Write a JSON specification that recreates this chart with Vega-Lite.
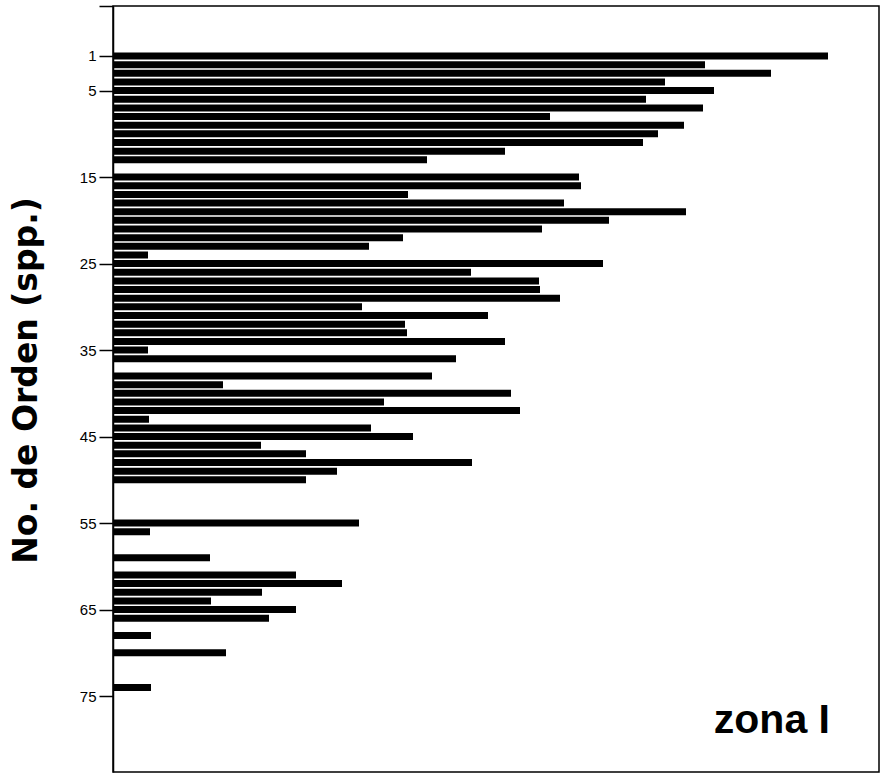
{
  "$schema": "https://vega.github.io/schema/vega-lite/v6.json",
  "autosize": {"type": "none"},
  "width": 766,
  "height": 766,
  "padding": {"left": 113, "top": 6, "right": 6, "bottom": 5},
  "background": "white",
  "config": {
    "view": {"stroke": "black", "strokeWidth": 1.5},
    "font": "Liberation Sans"
  },
  "datasets": {
    "barras": [
      {"orden": 1, "valor": 715}, {"orden": 2, "valor": 592}, {"orden": 3, "valor": 658},
      {"orden": 4, "valor": 552}, {"orden": 5, "valor": 601}, {"orden": 6, "valor": 533},
      {"orden": 7, "valor": 590}, {"orden": 8, "valor": 437}, {"orden": 9, "valor": 571},
      {"orden": 10, "valor": 545}, {"orden": 11, "valor": 530}, {"orden": 12, "valor": 392},
      {"orden": 13, "valor": 314}, {"orden": 15, "valor": 466}, {"orden": 16, "valor": 468},
      {"orden": 17, "valor": 295}, {"orden": 18, "valor": 451}, {"orden": 19, "valor": 573},
      {"orden": 20, "valor": 496}, {"orden": 21, "valor": 429}, {"orden": 22, "valor": 290},
      {"orden": 23, "valor": 256}, {"orden": 24, "valor": 35}, {"orden": 25, "valor": 490},
      {"orden": 26, "valor": 358}, {"orden": 27, "valor": 426}, {"orden": 28, "valor": 427},
      {"orden": 29, "valor": 447}, {"orden": 30, "valor": 249}, {"orden": 31, "valor": 375},
      {"orden": 32, "valor": 292}, {"orden": 33, "valor": 294}, {"orden": 34, "valor": 392},
      {"orden": 35, "valor": 35}, {"orden": 36, "valor": 343}, {"orden": 38, "valor": 319},
      {"orden": 39, "valor": 110}, {"orden": 40, "valor": 398}, {"orden": 41, "valor": 271},
      {"orden": 42, "valor": 407}, {"orden": 43, "valor": 36}, {"orden": 44, "valor": 258},
      {"orden": 45, "valor": 300}, {"orden": 46, "valor": 148}, {"orden": 47, "valor": 193},
      {"orden": 48, "valor": 359}, {"orden": 49, "valor": 224}, {"orden": 50, "valor": 193},
      {"orden": 55, "valor": 246}, {"orden": 56, "valor": 37}, {"orden": 59, "valor": 97},
      {"orden": 61, "valor": 183}, {"orden": 62, "valor": 229}, {"orden": 63, "valor": 149},
      {"orden": 64, "valor": 98}, {"orden": 65, "valor": 183}, {"orden": 66, "valor": 156},
      {"orden": 68, "valor": 38}, {"orden": 70, "valor": 113}, {"orden": 74, "valor": 38}
    ]
  },
  "layer": [
    {
      "data": {"name": "barras"},
      "mark": {"type": "bar", "color": "black", "size": 7, "orient": "horizontal"},
      "encoding": {
        "y": {
          "field": "orden",
          "type": "quantitative",
          "scale": {"domain": [-4.78, 83.78], "reverse": true, "nice": false, "zero": false, "padding": 0},
          "axis": {
            "title": "No. de Orden (spp.)",
            "titleFont": "DejaVu Sans",
            "titleFontSize": 33,
            "titleFontWeight": "bold",
            "titleColor": "black",
            "titleX": -70,
            "titleY": 374,
            "values": [-4.78, 1, 5, 15, 25, 35, 45, 55, 65, 75],
            "labelExpr": "datum.value < 0 ? '' : datum.label",
            "labelFont": "Liberation Sans",
            "labelFontSize": 15,
            "labelColor": "black",
            "labelPadding": 3,
            "tickColor": "black",
            "tickSize": 14,
            "tickWidth": 1.5,
            "domainColor": "black",
            "domainWidth": 1.5,
            "grid": false
          }
        },
        "x": {
          "field": "valor",
          "type": "quantitative",
          "scale": {"domain": [0, 766], "nice": false, "padding": 0},
          "axis": null
        }
      }
    },
    {
      "data": {"values": [{"etiqueta": "zona I"}]},
      "mark": {"type": "text", "font": "Liberation Sans", "fontSize": 41, "fontWeight": "bold", "align": "right", "baseline": "alphabetic", "color": "black"},
      "encoding": {
        "text": {"field": "etiqueta"},
        "x": {"datum": 717},
        "y": {"datum": 79.3}
      }
    }
  ]
}
